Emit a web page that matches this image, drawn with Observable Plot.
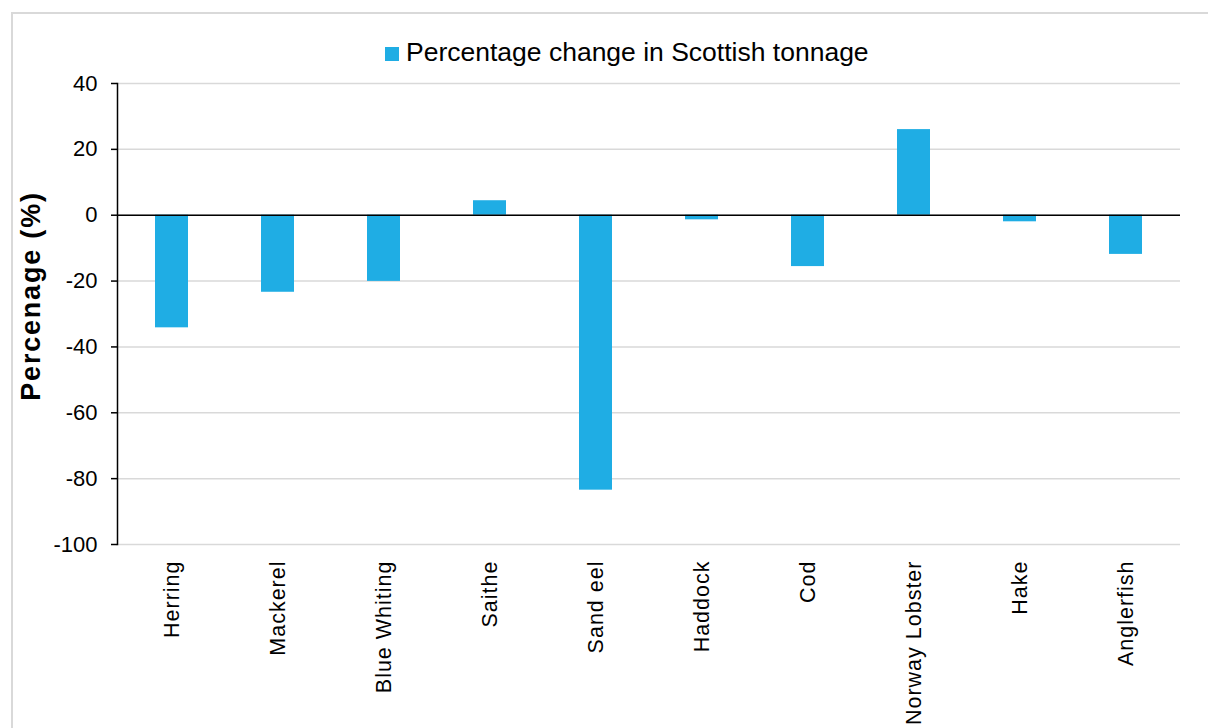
<!DOCTYPE html>
<html><head><meta charset="utf-8">
<script src="https://cdn.jsdelivr.net/npm/d3@7"></script>
<script src="https://cdn.jsdelivr.net/npm/@observablehq/plot@0.6"></script>
<style>
body{margin:0;background:#fff;font-family:"Liberation Sans",Arial,sans-serif;}
#wrap{position:relative;width:1208px;height:728px;overflow:hidden;}
#chart{position:absolute;left:0;top:0;}
#chart g[aria-label="x-axis tick label"] text{letter-spacing:1px;}
#frame{position:absolute;left:11px;top:12px;width:1300px;height:800px;border:2px solid #d9d9d9;box-sizing:border-box;pointer-events:none;}
#legend{position:absolute;left:385px;top:39px;font-size:26.5px;line-height:1;white-space:nowrap;color:#000;}
#legend .sw{display:inline-block;width:14px;height:14px;background:#1fade4;margin-right:7px;vertical-align:0px;}
#ytitle{position:absolute;left:31px;top:296px;transform:translate(-50%,-50%) rotate(-90deg);font-weight:bold;font-size:27px;letter-spacing:1.8px;white-space:nowrap;color:#000;}
</style></head>
<body>
<div id="wrap">
  <div id="chart"></div>
  <div id="frame"></div>
  <div id="legend"><span class="sw"></span>Percentage change in Scottish tonnage</div>
  <div id="ytitle">Percenage (%)</div>
</div>
<script>
const species = ["Herring","Mackerel","Blue Whiting","Saithe","Sand eel","Haddock","Cod","Norway Lobster","Hake","Anglerfish"];
const change = [-34.2,-23.4,-20.1,4.4,-83.5,-1.4,-15.6,26.0,-2.0,-11.9];
const yTicks = [-100,-80,-60,-40,-20,0,20,40];
const barColor = "#1fade4";

const data = species.map((s,i)=>({species:s, change:change[i]}));

const chart = Plot.plot({
  width:1208, height:728,
  marginTop:83, marginBottom:184, marginLeft:117, marginRight:28,
  style:{fontFamily:"'Liberation Sans', Arial, sans-serif", color:"#000", background:"transparent", overflow:"visible"},
  x:{domain:species, paddingInner:0.69, paddingOuter:0.345, label:null},
  y:{domain:[-100,40], label:null},
  marks:[
    Plot.gridY(yTicks, {stroke:"#d9d9d9", strokeOpacity:1, strokeWidth:1.5}),
    Plot.barY(data, {x:"species", y:"change", fill:barColor}),
    Plot.ruleY([0], {stroke:"#000", strokeWidth:1.5}),
    Plot.frame({anchor:"left", stroke:"#000", strokeWidth:1.5}),
    Plot.axisY(yTicks, {tickSize:6, tickPadding:14, fontSize:22, label:null, stroke:"#000", strokeWidth:1.5, tickFormat:d=>String(d)}),
    Plot.axisX({tickRotate:-90, tickSize:0, tickPadding:16, fontSize:21.5, label:null})
  ]
});
document.getElementById("chart").appendChild(chart);
</script>
</body></html>
